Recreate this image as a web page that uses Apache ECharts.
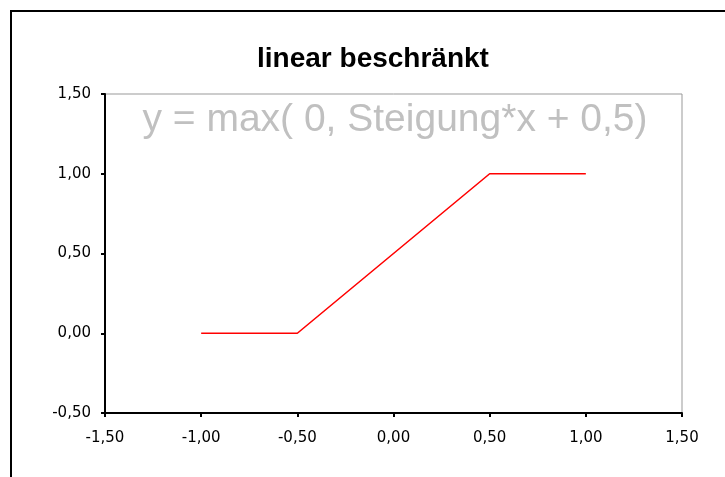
<!DOCTYPE html>
<html>
<head>
<meta charset="utf-8">
<script src="https://cdn.jsdelivr.net/npm/echarts@6/dist/echarts.min.js"></script>
<style>html,body{margin:0;padding:0;background:#fff;}#c{width:725px;height:477px;}</style>
</head>
<body>
<div id="c"></div>
<script>
const titleText = 'linear beschränkt';
const formulaText = 'y = max( 0, Steigung*x + 0,5)';
const xValues = [-1.0, -0.5, 0.5, 1.0];
const yValues = [0.0, 0.0, 1.0, 1.0];
const xTicks = {min: -1.5, max: 1.5, step: 0.5};
const yTicks = {min: -0.5, max: 1.5, step: 0.5};

const fmt = v => v.toFixed(2).replace('.', ',');
const chart = echarts.init(document.getElementById('c'));
chart.setOption({
  animation: false,
  backgroundColor: '#fff',
  title: [{
    text: titleText, left: 368, top: 40, textAlign: 'center',
    textStyle: {fontFamily: 'Liberation Sans', fontWeight: 'bold', fontSize: 28, color: '#000'}
  }, {
    text: formulaText, left: 390, top: 96, textAlign: 'center',
    textStyle: {fontFamily: 'Liberation Sans', fontWeight: 'normal', fontSize: 39, color: '#c0c0c0'}
  }],
  graphic: [{
    type: 'rect', shape: {x: 11, y: 11, width: 800, height: 600},
    style: {fill: 'none', stroke: '#000', lineWidth: 2}, silent: true
  }],
  grid: {left: 105, top: 94, width: 577, height: 319, show: true, borderColor: '#999', borderWidth: 1, backgroundColor: 'transparent'},
  xAxis: {
    type: 'value', min: xTicks.min, max: xTicks.max, interval: xTicks.step,
    axisLine: {onZero: false, lineStyle: {color: '#000', width: 2}},
    axisTick: {show: true, length: 4, lineStyle: {color: '#000', width: 2}},
    axisLabel: {formatter: fmt, color: '#000', fontFamily: 'DejaVu Sans', fontSize: 15, margin: 18},
    splitLine: {show: false}
  },
  yAxis: {
    type: 'value', min: yTicks.min, max: yTicks.max, interval: yTicks.step,
    axisLine: {show: true, onZero: false, lineStyle: {color: '#000', width: 2}},
    axisTick: {show: true, length: 4, lineStyle: {color: '#000', width: 2}},
    axisLabel: {formatter: fmt, color: '#000', fontFamily: 'DejaVu Sans', fontSize: 15, margin: 14},
    splitLine: {show: false}
  },
  series: [{
    type: 'line', data: xValues.map((x, i) => [x, yValues[i]]),
    showSymbol: false, symbol: 'none',
    lineStyle: {color: '#ff0000', width: 1.6}
  }]
});
</script>
</body>
</html>
